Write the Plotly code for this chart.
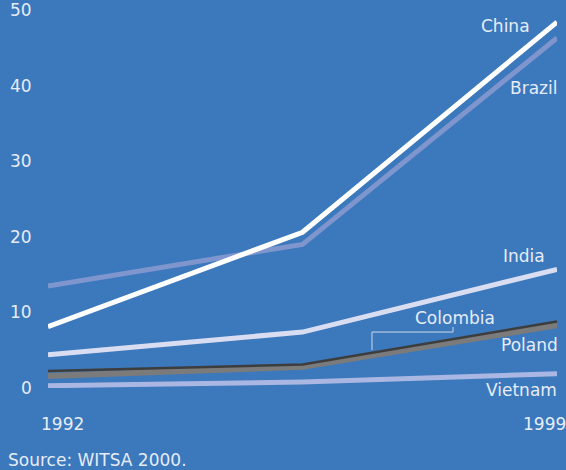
import plotly.graph_objects as go

years = ["1992", "1996", "1999"]
china = [8.1, 20.6, 48.4]
brazil = [13.5, 19.0, 46.3]
india = [4.4, 7.4, 15.7]
colombia = [2.25, 3.1, 8.8]
poland = [1.6, 2.8, 8.3]
vietnam = [0.3, 0.8, 1.9]
y_ticks = [0, 10, 20, 30, 40, 50]

BG = "#3b78bc"
TXT = "#e6ecf7"
FONT = "DejaVu Sans"
FS = 17

W, H = 566, 470
ML, MR, MT, MB = 48, 9, 10, 82
PW, PH = W - ML - MR, H - MT - MB

fig = go.Figure()

def add(name, vals, color, width):
    fig.add_trace(go.Scatter(x=years, y=vals, mode="lines", name=name,
                             line=dict(color=color, width=width),
                             hoverinfo="name+y"))

add("Vietnam", vietnam, "#a9b7e2", 5)
add("India", india, "#d9ddf1", 5)
add("Poland", poland, "#7b7b7b", 6)
add("Colombia", colombia, "#3d3d3d", 2.5)
add("Brazil", brazil, "#7e95cd", 5)
add("China", china, "#ffffff", 5)

def P(px, py):
    return ((px - ML) / PW, (H - MB - py) / PH)

labels = [
    ("China", 532, 26),
    ("Brazil", 559, 88),
    ("India", 547, 256),
    ("Colombia", 497, 318),
    ("Poland", 560, 345),
    ("Vietnam", 559, 390),
]
ann = []
def txt(t, px, py, anchor):
    x, y = P(px, py)
    ann.append(dict(text=t, x=x, y=y, xref="paper", yref="paper",
                    xanchor=anchor, yanchor="middle", showarrow=False,
                    font=dict(family=FONT, size=FS, color=TXT)))
for t, px, py in labels:
    txt(t, px, py, "right")
txt("1992", 62, 424, "center")
txt("1999", 521, 424, "left")
txt("Source: WITSA 2000.", 6, 460, "left")

# y tick labels as annotations tied to the y axis
for v in y_ticks:
    ann.append(dict(text=str(v), x=-14 / PW, y=v, xref="paper", yref="y",
                    xanchor="right", yanchor="middle", showarrow=False,
                    font=dict(family=FONT, size=FS, color=TXT)))

pts = [P(372, 350), P(372, 332), P(453, 332), P(453, 327)]
path = "M " + " L ".join(f"{a:.4f},{b:.4f}" for a, b in pts)

fig.update_layout(
    width=W, height=H,
    margin=dict(l=ML, r=MR, t=MT, b=MB, autoexpand=False),
    paper_bgcolor=BG, plot_bgcolor=BG,
    showlegend=False,
    annotations=ann,
    shapes=[dict(type="path", path=path, xref="paper", yref="paper",
                 line=dict(color="#d0d8ea", width=1))],
    xaxis=dict(type="category", range=[0, 2], showgrid=False, zeroline=False,
               showticklabels=False, showline=False, automargin=False),
    yaxis=dict(range=[0, 50], tickvals=y_ticks, showgrid=False, zeroline=False,
               showline=False, ticks="", showticklabels=False, automargin=False),
)

fig.write_html("out.html")
